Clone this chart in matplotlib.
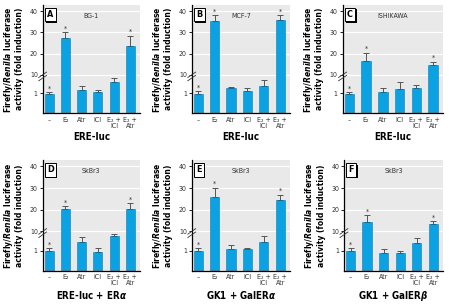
import numpy as np
import matplotlib
matplotlib.use("Agg")
import matplotlib.pyplot as plt
import matplotlib.patheffects as pe

plt.rcParams['font.family'] = ['DejaVu Sans']
plt.rcParams['font.stretch'] = 'condensed'
plt.rcParams['mathtext.fontset'] = 'custom'
plt.rcParams['mathtext.rm'] = 'DejaVu Sans'
plt.rcParams['mathtext.it'] = 'DejaVu Sans:italic:bold'
plt.rcParams['mathtext.bf'] = 'DejaVu Sans:bold'

# treatments on the x axis
groups = ['–', 'E₂', 'Atr', 'ICI', 'E₂ +\nICI', 'E₂ +\nAtr']

# fold induction
bg1_vals = [0.95, 27.3, 1.2, 1.05, 1.57, 23.6]
bg1_err = [0.1, 2.9, 0.17, 0.12, 0.23, 4.8]
mcf7_vals = [0.95, 35.3, 1.3, 1.15, 1.4, 35.9]
mcf7_err = [0.15, 2.8, 0.03, 0.15, 0.27, 2.2]
ishi_vals = [0.95, 16.6, 1.07, 1.25, 1.3, 14.7]
ishi_err = [0.1, 3.7, 0.23, 0.35, 0.15, 1.4]
skbr_a_vals = [1.0, 20.5, 1.42, 0.93, 1.7, 20.3]
skbr_a_err = [0.1, 1.0, 0.23, 0.19, 0.13, 2.7]
gal_a_vals = [1.0, 25.9, 1.08, 1.08, 1.42, 24.5]
gal_a_err = [0.1, 4.3, 0.19, 0.04, 0.28, 2.5]
gal_b_vals = [1.0, 14.1, 0.9, 0.9, 1.38, 13.2]
gal_b_err = [0.1, 3.2, 0.18, 0.1, 0.22, 1.5]

stars = [True, True, False, False, False, True]

panels = [
    ('A', 'BG-1', 'ERE-luc', bg1_vals, bg1_err),
    ('B', 'MCF-7', 'ERE-luc', mcf7_vals, mcf7_err),
    ('C', 'ISHIKAWA', 'ERE-luc', ishi_vals, ishi_err),
    ('D', 'SkBr3', r'ERE-luc + ER$\alpha$', skbr_a_vals, skbr_a_err),
    ('E', 'SkBr3', r'GK1 + GalER$\alpha$', gal_a_vals, gal_a_err),
    ('F', 'SkBr3', r'GK1 + GalER$\beta$', gal_b_vals, gal_b_err),
]

# broken y axis: 0-1.85 linear, jump, then 10-40 compressed
kv = [0, 1.85, 10, 50]
kt = [0, 1.85, 1.95, 1.95 + 40 * 0.1067]
fwd = lambda v: np.interp(v, kv, kt)
inv = lambda t: np.interp(t, kt, kv)

fig = plt.figure(figsize=(4.49, 3.07), dpi=100)

pos = [
    [0.095, 0.631, 0.217, 0.353],
    [0.427, 0.631, 0.219, 0.353],
    [0.763, 0.631, 0.224, 0.353],
    [0.095, 0.118, 0.217, 0.361],
    [0.427, 0.118, 0.219, 0.361],
    [0.766, 0.118, 0.221, 0.361],
]

x = np.arange(len(groups))
for (letter, cell, xlab, vals, err), p in zip(panels, pos):
    ax = fig.add_axes(p)
    ax.set_yscale('function', functions=(fwd, inv))
    ax.set_facecolor('#e9e9e9')
    ax.set_ylim(0, 43)
    ax.set_xlim(-0.4, 5.6)
    for g in [10, 20, 30, 40]:
        ax.axhline(g, color='white', lw=0.9, zorder=0)
    ax.bar(x, vals, width=0.56, color='#0aa2e2', edgecolor='#0a7cb8', lw=0.4, zorder=2)
    ax.errorbar(x, vals, yerr=[np.zeros(6), err], fmt='none', ecolor='#555555',
                elinewidth=0.7, capsize=2, capthick=0.7, zorder=3)
    for i in range(6):
        if stars[i]:
            ax.annotate('*', (x[i], vals[i] + err[i]), xytext=(0, 0.5),
                        textcoords='offset points', ha='center', va='bottom',
                        fontsize=5, color='#333333')
    ax.set_yticks([1, 10, 20, 30, 40])
    ax.set_yticklabels(['1', '10', '20', '30', '40'], fontsize=5, color='#333333')
    ax.set_yticks([], minor=True)
    ax.tick_params(axis='y', length=2, width=0.6, pad=1.5)
    ax.set_xticks(x)
    ax.set_xticklabels(groups, fontsize=5, color='#333333', linespacing=1.05)
    ax.tick_params(axis='x', length=0, pad=2.5)
    for s in ['top', 'right']:
        ax.spines[s].set_visible(False)
    ax.spines['left'].set_linewidth(0.9)
    ax.spines['bottom'].set_linewidth(0.9)
    ax.set_xlabel(xlab, fontsize=7, fontweight='bold', labelpad=2)
    ax.set_ylabel('Firefly/$\\it{Renilla}$ luciferase\nactivity (fold induction)',
                  fontsize=6.1, fontweight='bold', labelpad=4, linespacing=1.05)
    ax.text(0.5, 0.9, cell, transform=ax.transAxes, ha='center', va='center',
            fontsize=5, color='#333333')
    t = ax.text(0.045, 0.91, letter, transform=ax.transAxes, ha='left', va='center',
                fontsize=6.5, fontweight='bold',
                bbox=dict(boxstyle='square,pad=0.25', fc='white', ec='black', lw=0.7))
    t.get_bbox_patch().set_path_effects([pe.withSimplePatchShadow(offset=(1, -1),
                                         shadow_rgbFace='black', alpha=1)])
    # break marks on the y axis
    for dy in [0.0, 0.03]:
        ax.plot([-0.04, 0.04], [0.30 + dy, 0.35 + dy], transform=ax.transAxes,
                color='#333333', lw=0.6, clip_on=False, zorder=5)

fig.savefig('out.png', dpi=100)
